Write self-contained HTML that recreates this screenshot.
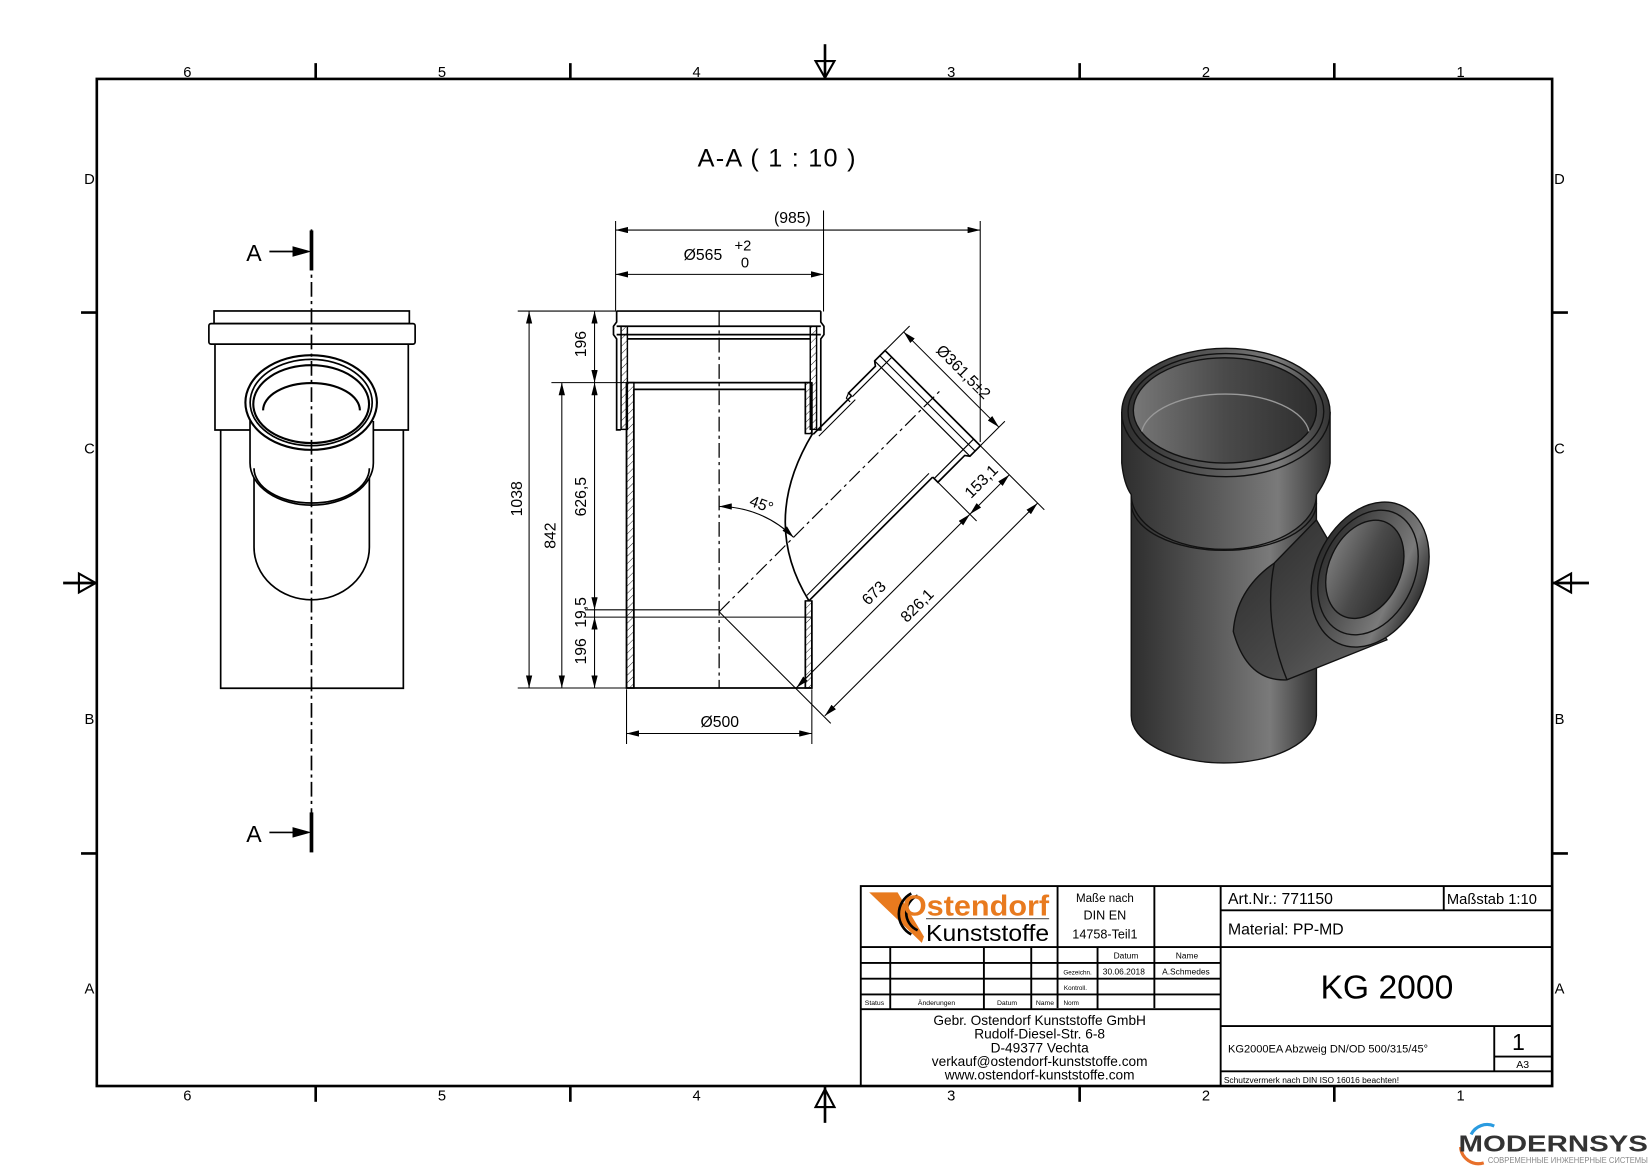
<!DOCTYPE html>
<html><head><meta charset="utf-8"><style>
html,body{margin:0;padding:0;background:#fff;}
svg{display:block;}
text{font-family:"Liberation Sans",sans-serif;fill:#000;}
</style></head><body>
<svg width="1650" height="1166" viewBox="0 0 1568 1108" preserveAspectRatio="none" xmlns="http://www.w3.org/2000/svg">
<defs>
<marker id="ar" markerWidth="12" markerHeight="6" refX="12" refY="3" orient="auto-start-reverse" markerUnits="userSpaceOnUse"><path d="M0,0 L12,3 L0,6 z" fill="#000"/></marker>
<pattern id="hatch" width="5" height="5" patternUnits="userSpaceOnUse" patternTransform="rotate(45)"><line x1="0" y1="0" x2="0" y2="5" stroke="#000" stroke-width="0.8"/></pattern>
<linearGradient id="g3" x1="0" x2="1" y1="0" y2="0"><stop offset="0" stop-color="#2e2e2e"/><stop offset="0.45" stop-color="#5a5a5a"/><stop offset="0.75" stop-color="#7a7a7a"/><stop offset="1" stop-color="#333"/></linearGradient>
<linearGradient id="g4" x1="0" x2="1" y1="0" y2="1"><stop offset="0" stop-color="#2a2a2a"/><stop offset="0.6" stop-color="#4a4a4a"/><stop offset="1" stop-color="#6a6a6a"/></linearGradient>
<linearGradient id="gin" x1="0" x2="1"><stop offset="0" stop-color="#777"/><stop offset="0.5" stop-color="#4a4a4a"/><stop offset="1" stop-color="#2e2e2e"/></linearGradient>
</defs>
<rect width="1568" height="1108" fill="#fff"/>

<!-- frame -->
<rect x="92" y="75" width="1383" height="957" fill="none" stroke="#000" stroke-width="2.5"/>
<g stroke="#000" stroke-width="2.5">
<line x1="300" y1="60" x2="300" y2="75"/><line x1="542" y1="60" x2="542" y2="75"/><line x1="1026" y1="60" x2="1026" y2="75"/><line x1="1268" y1="60" x2="1268" y2="75"/>
<line x1="300" y1="1032" x2="300" y2="1047"/><line x1="542" y1="1032" x2="542" y2="1047"/><line x1="1026" y1="1032" x2="1026" y2="1047"/><line x1="1268" y1="1032" x2="1268" y2="1047"/>
<line x1="77" y1="297" x2="92" y2="297"/><line x1="77" y1="811" x2="92" y2="811"/>
<line x1="1475" y1="297" x2="1490" y2="297"/><line x1="1475" y1="811" x2="1490" y2="811"/>
<line x1="784" y1="42" x2="784" y2="75"/><line x1="784" y1="1032" x2="784" y2="1067"/>
<line x1="60" y1="554" x2="92" y2="554"/><line x1="1475" y1="554" x2="1510" y2="554"/>
</g>
<g fill="none" stroke="#000" stroke-width="2">
<polygon points="775,58 793,58 784,74"/><polygon points="775,1052 793,1052 784,1035"/>
<polygon points="75,545 75,563 91,554"/><polygon points="1493,545 1493,563 1477,554"/>
</g>
<g font-size="14" text-anchor="middle">
<text x="178" y="73">6</text><text x="420" y="73">5</text><text x="662" y="73">4</text><text x="904" y="73">3</text><text x="1146" y="73">2</text><text x="1388" y="73">1</text>
<text x="178" y="1046">6</text><text x="420" y="1046">5</text><text x="662" y="1046">4</text><text x="904" y="1046">3</text><text x="1146" y="1046">2</text><text x="1388" y="1046">1</text>
<text x="85" y="175">D</text><text x="85" y="431">C</text><text x="85" y="688">B</text><text x="85" y="944">A</text>
<text x="1482" y="175">D</text><text x="1482" y="431">C</text><text x="1482" y="688">B</text><text x="1482" y="944">A</text>
</g>

<text x="663" y="158" font-size="24" textLength="150" lengthAdjust="spacing">A-A ( 1 : 10 )</text>

<!-- LEFT VIEW -->
<g fill="none" stroke="#000" stroke-width="1.6">
<rect x="203.4" y="295.5" width="185.6" height="12"/>
<rect x="198.5" y="307.5" width="196" height="19.5" rx="2"/>
<path d="M204.3,327 V408.6 H388 V327"/>
<path d="M209.7,408.6 V654 H383.3 V408.6"/>
<path d="M241.4,430 V520 A54.8,50 0 0 0 351,520 V430" fill="#fff"/>
<path d="M237.6,400 V440 A58.6,40 0 0 0 354.8,440 V400" fill="#fff"/>
<path d="M241.4,445 A54.8,33 0 0 0 351,445"/>
<ellipse cx="295.7" cy="382.5" rx="62.5" ry="45" fill="#fff" stroke-width="2"/>
<ellipse cx="295.7" cy="382.5" rx="58" ry="41"/>
<ellipse cx="295.7" cy="384" rx="55" ry="37" stroke-width="2"/>
<path d="M250,390 A46,26 0 0 1 342,390" stroke-width="2"/>
</g>
<line x1="296" y1="218" x2="296" y2="810" stroke="#000" stroke-width="1.6" stroke-dasharray="14,4,3,4"/>
<g stroke="#000">
<line x1="296" y1="219" x2="296" y2="257" stroke-width="3.5"/>
<line x1="296" y1="772" x2="296" y2="810" stroke-width="3.5"/>
<line x1="256" y1="239" x2="282" y2="239" stroke-width="1.6"/>
<line x1="256" y1="791" x2="282" y2="791" stroke-width="1.6"/>
</g>
<polygon points="278,234 296,239 278,244" fill="#000"/>
<polygon points="278,786 296,791 278,796" fill="#000"/>
<text x="234" y="248" font-size="22">A</text>
<text x="234" y="800" font-size="22">A</text>

<!-- MIDDLE SECTION VIEW -->
<g stroke="#000" stroke-width="1.4">
<!-- hatched walls -->
<rect x="595.4" y="363.6" width="7" height="290.2" fill="url(#hatch)"/>
<rect x="765.3" y="363.6" width="6.2" height="48.4" fill="url(#hatch)"/>
<rect x="765.3" y="571" width="6.2" height="82.8" fill="url(#hatch)"/>
<rect x="590.2" y="310" width="6" height="98" fill="url(#hatch)"/>
<rect x="770" y="310" width="6" height="98" fill="url(#hatch)"/>
</g>
<g fill="none" stroke="#000" stroke-width="1.6">
<path d="M586,295.6 H780 M586,295.6 V306 L583,310 V318 L586,322 V408.5 H590 M780,295.6 V306 L783,310 V318 L780,322 V408.5 H776"/>
<path d="M586,310 H780 M586,318 H780 M596,322 H770 M596,363.6 H770 M602.3,370 H765.3"/>
<path d="M595.4,363.6 V653.8 H771.5 V571 M771.5,412 V363.6"/>
<path d="M602.3,370 V653.8 M765.3,370 V412 M765.3,571 V653.8"/>
<path d="M772.2,412 Q722,495 768.8,571" stroke-width="1.6"/>
</g>
<line x1="683.4" y1="296" x2="683.4" y2="654" stroke="#000" stroke-width="1.2" stroke-dasharray="14,4,3,4"/>

<!-- branch in local frame -->
<g transform="translate(683.4,581.3) rotate(-45)" fill="none" stroke="#000" stroke-width="1.6">
<line x1="67.7" y1="53" x2="234" y2="53"/>
<line x1="70" y1="48" x2="234" y2="48" stroke-width="1"/>
<line x1="182.5" y1="-56" x2="234" y2="-56"/>
<line x1="185" y1="-51" x2="234" y2="-51" stroke-width="1"/>
<path d="M234,53 V60 H270 L273,64 H287 V-64 H273 L270,-60 H234 V-56"/>
<path d="M234,55 H287 M234,-55 H287 M273,-64 V64 M280,-64 V64" stroke-width="1.1"/>
<path d="M234,-60 L229,-58 V-53" stroke-width="1.1"/>
<line x1="0" y1="0" x2="300" y2="0" stroke-width="1.1" stroke-dasharray="14,4,3,4"/>
<!-- dims -->
<g stroke-width="1">
<line x1="0" y1="0" x2="0" y2="150"/>
<line x1="234" y1="60" x2="234" y2="112"/>
<line x1="287" y1="64" x2="287" y2="150"/>
<line x1="287" y1="-64" x2="320" y2="-64"/>
<line x1="287" y1="64" x2="320" y2="64"/>
<line x1="1" y1="103" x2="234" y2="103" marker-start="url(#ar)" marker-end="url(#ar)"/>
<line x1="234" y1="103" x2="287" y2="103" marker-start="url(#ar)" marker-end="url(#ar)"/>
<line x1="1" y1="141" x2="287" y2="141" marker-start="url(#ar)" marker-end="url(#ar)"/>
<line x1="312" y1="-64" x2="312" y2="64" marker-start="url(#ar)" marker-end="url(#ar)"/>
</g>
</g>

<!-- main dims -->
<g stroke="#000" stroke-width="1" fill="none">
<line x1="585" y1="210" x2="585" y2="295"/>
<line x1="782.6" y1="200" x2="782.6" y2="296"/>
<line x1="931.5" y1="210" x2="931.5" y2="420"/>
<line x1="585" y1="218.6" x2="931.5" y2="218.6" marker-start="url(#ar)" marker-end="url(#ar)"/>
<line x1="585" y1="260.7" x2="782.6" y2="260.7" marker-start="url(#ar)" marker-end="url(#ar)"/>
<line x1="492" y1="295.6" x2="586" y2="295.6"/>
<line x1="492" y1="653.8" x2="595" y2="653.8"/>
<line x1="524" y1="363.6" x2="595" y2="363.6"/>
<line x1="556" y1="579.5" x2="683" y2="579.5"/>
<line x1="556" y1="586.4" x2="771" y2="586.4"/>
<line x1="502.8" y1="295.6" x2="502.8" y2="653.8" marker-start="url(#ar)" marker-end="url(#ar)"/>
<line x1="533.9" y1="363.6" x2="533.9" y2="653.8" marker-start="url(#ar)" marker-end="url(#ar)"/>
<line x1="565" y1="295.6" x2="565" y2="363.6" marker-start="url(#ar)" marker-end="url(#ar)"/>
<line x1="565" y1="363.6" x2="565" y2="579.5" marker-start="url(#ar)" marker-end="url(#ar)"/>
<line x1="565" y1="586.4" x2="565" y2="653.8" marker-start="url(#ar)" marker-end="url(#ar)"/>
<line x1="565" y1="579.5" x2="565" y2="586.4"/>
<line x1="595.4" y1="655" x2="595.4" y2="707"/>
<line x1="771.5" y1="655" x2="771.5" y2="707"/>
<line x1="595.4" y1="697" x2="771.5" y2="697" marker-start="url(#ar)" marker-end="url(#ar)"/>
<path d="M683.4,481.3 A100,100 0 0 1 754.1,510.6" marker-start="url(#ar)" marker-end="url(#ar)"/>
</g>
<g font-size="15" text-anchor="middle">
<text x="753" y="212">(985)</text>
<text x="668" y="247">Ø565</text>
<text x="706" y="238" font-size="14">+2</text>
<text x="708" y="254" font-size="14">0</text>
<text x="684" y="691">Ø500</text>
<text transform="translate(496,474) rotate(-90)">1038</text>
<text transform="translate(528,509) rotate(-90)">842</text>
<text transform="translate(557,327) rotate(-90)">196</text>
<text transform="translate(557,472) rotate(-90)">626,5</text>
<text transform="translate(557,582) rotate(-90)">19,5</text>
<text transform="translate(557,619) rotate(-90)">196</text>
<text transform="translate(722,484) rotate(20)">45°</text>
<text transform="translate(834,567) rotate(-45)">673</text>
<text transform="translate(875,579) rotate(-45)">826,1</text>
<text transform="translate(936,461) rotate(-45)">153,1</text>
<text transform="translate(912,357) rotate(45)">Ø361,5±2</text>
</g>

<!-- 3D VIEW -->
<g stroke="#111" stroke-width="1.3">
<path d="M1075,470 V680 A88,45 0 0 0 1251,680 V470 Z" fill="url(#g3)"/>
<path d="M1066,392 V440 Q1068,460 1075,470 A88,52 0 0 0 1251,470 Q1262,455 1264,440 V392 Z" fill="url(#g3)"/>
<path d="M1075,478 A88,45 0 0 0 1251,478" fill="none"/>
<ellipse cx="1165" cy="392" rx="99" ry="61" fill="url(#g3)"/>
<ellipse cx="1165" cy="391" rx="93" ry="55" fill="none"/>
<ellipse cx="1164" cy="390" rx="87" ry="50" fill="url(#gin)"/>
<path d="M1085,410 A80,40 0 0 1 1244,410" fill="none" stroke="#999"/>
<!-- branch -->
<path d="M1211,535 L1251,494 L1318,608 L1223,646 Q1185,648 1172,600 Q1175,560 1211,535 Z" fill="url(#g4)"/>
<path d="M1211,535 Q1200,590 1223,646" fill="none"/>
<ellipse cx="1302" cy="546" rx="52" ry="72" transform="rotate(25 1302 546)" fill="url(#g3)"/>
<ellipse cx="1300" cy="544" rx="44" ry="62" transform="rotate(25 1300 544)" fill="none"/>
<ellipse cx="1297" cy="541" rx="34" ry="49" transform="rotate(25 1297 541)" fill="url(#gin)"/>
</g>

<!-- TITLE BLOCK -->
<g fill="none" stroke="#000" stroke-width="1.8">
<rect x="818" y="842" width="657" height="190"/>
<line x1="1005" y1="842" x2="1005" y2="958"/>
<line x1="1097" y1="842" x2="1097" y2="958"/>
<line x1="1160" y1="842" x2="1160" y2="1032"/>
<line x1="818" y1="900" x2="1160" y2="900"/>
<line x1="818" y1="915" x2="1160" y2="915"/>
<line x1="818" y1="930" x2="1160" y2="930"/>
<line x1="818" y1="945" x2="1160" y2="945"/>
<line x1="818" y1="959" x2="1160" y2="959"/>
<line x1="846" y1="900" x2="846" y2="959"/>
<line x1="935" y1="900" x2="935" y2="959"/>
<line x1="980" y1="900" x2="980" y2="959"/>
<line x1="1043" y1="900" x2="1043" y2="959"/>
<line x1="1160" y1="865" x2="1475" y2="865"/>
<line x1="1372" y1="842" x2="1372" y2="865"/>
<line x1="1160" y1="900" x2="1475" y2="900"/>
<line x1="1160" y1="975" x2="1475" y2="975"/>
<line x1="1160" y1="1018" x2="1475" y2="1018"/>
<line x1="1420" y1="975" x2="1420" y2="1018"/>
<line x1="1420" y1="1004" x2="1475" y2="1004"/>
</g>
<!-- logo -->
<polygon points="826,848 853,848 878,890 876,896" fill="#e87a1e"/>
<path d="M866,849 A22,22 0 0 0 866,888" fill="none" stroke="#000" stroke-width="2.5"/>
<path d="M872,851 A18,18 0 0 0 872,884" fill="none" stroke="#000" stroke-width="2.5"/>
<text x="858" y="870" font-size="27" font-weight="bold" style="fill:#e87a1e" textLength="139" lengthAdjust="spacingAndGlyphs">Ostendorf</text>
<line x1="880" y1="873" x2="997" y2="873" stroke="#555" stroke-width="1"/>
<text x="880" y="894" font-size="22" textLength="117" lengthAdjust="spacingAndGlyphs">Kunststoffe</text>
<g text-anchor="middle">
<text x="1050" y="857" font-size="11">Maße nach</text>
<text x="1050" y="874" font-size="12">DIN EN</text>
<text x="1050" y="892" font-size="12">14758-Teil1</text>
<text x="1070" y="911" font-size="8">Datum</text>
<text x="1128" y="911" font-size="8">Name</text>
<text x="1024" y="926" font-size="6">Gezeichn.</text>
<text x="1068" y="926" font-size="8">30.06.2018</text>
<text x="1127" y="926" font-size="8">A.Schmedes</text>
<text x="1022" y="941" font-size="6">Kontroll.</text>
<text x="1018" y="955" font-size="6">Norm</text>
<text x="831" y="955" font-size="6.5">Status</text>
<text x="890" y="955" font-size="6.5">Änderungen</text>
<text x="957" y="955" font-size="6.5">Datum</text>
<text x="993" y="955" font-size="6.5">Name</text>
<text x="988" y="974" font-size="13">Gebr. Ostendorf Kunststoffe GmbH</text>
<text x="988" y="987" font-size="13">Rudolf-Diesel-Str. 6-8</text>
<text x="988" y="1000" font-size="13">D-49377 Vechta</text>
<text x="988" y="1013" font-size="13">verkauf@ostendorf-kunststoffe.com</text>
<text x="988" y="1026" font-size="13">www.ostendorf-kunststoffe.com</text>
<text x="1318" y="949" font-size="32">KG 2000</text>
<text x="1443" y="998" font-size="22">1</text>
<text x="1447" y="1015" font-size="10">A3</text>
</g>
<text x="1167" y="859" font-size="15">Art.Nr.: 771150</text>
<text x="1375" y="859" font-size="14">Maßstab 1:10</text>
<text x="1167" y="888" font-size="15">Material: PP-MD</text>
<text x="1167" y="1000" font-size="10.5">KG2000EA Abzweig DN/OD 500/315/45°</text>
<text x="1163" y="1029" font-size="8">Schutzvermerk nach DIN ISO 16016 beachten!</text>

<!-- Modernsys logo -->
<path d="M1398,1078 A17,17 0 0 1 1420,1070" fill="none" stroke="#2a9be0" stroke-width="3"/>
<path d="M1388,1090 A17,17 0 0 0 1410,1105" fill="none" stroke="#e8702a" stroke-width="3"/>
<text x="1386" y="1094" font-size="22" font-weight="bold" style="fill:#333" textLength="180" lengthAdjust="spacingAndGlyphs">MODERNSYS</text>
<text x="1414" y="1105" font-size="7.5" style="fill:#888" textLength="152" lengthAdjust="spacingAndGlyphs">СОВРЕМЕННЫЕ ИНЖЕНЕРНЫЕ СИСТЕМЫ</text>
</svg>
</body></html>
